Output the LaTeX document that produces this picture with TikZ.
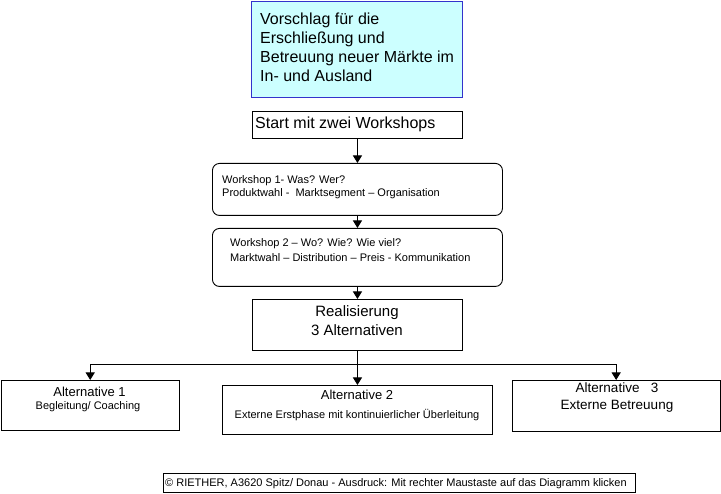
\documentclass[tikz,border=0pt]{standalone}
\usepackage{fontspec}
\setmainfont{Liberation Sans}
\usetikzlibrary{arrows.meta}
\definecolor{tfill}{RGB}{204,255,255}
\definecolor{tborder}{RGB}{51,51,204}
\newcommand\fsz[1]{\fontsize{#1}{#1}\selectfont}
\begin{document}
\begin{tikzpicture}[x=1pt,y=-1pt,
  box/.style={draw, line width=0.9pt, inner sep=0pt, anchor=north west},
  lt/.style={inner sep=0pt, anchor=base west},
  ct/.style={inner sep=0pt, anchor=base},
  arr/.style={-{Triangle[width=9pt,length=7.5pt]}, line width=1pt}]
\useasboundingbox (0,0) rectangle (721,494);

% title
\node[box, draw=tborder, fill=tfill, line width=1.2pt, minimum width=211pt, minimum height=96pt] (title) at (251,0.6) {};
\node[lt, font=\fsz{16}] (t1) at (260,25) {Vorschlag für die};
\node[lt, font=\fsz{16}] (t2) at (260,44) {Erschließung und};
\node[lt, font=\fsz{16}] (t3) at (260,63) {Betreuung neuer Märkte im};
\node[lt, font=\fsz{16}] (t4) at (260,82) {In- und Ausland};

% start
\node[box, minimum width=210pt, minimum height=27pt] (start) at (252,111.5) {};
\node[lt, font=\fsz{16}] (st) at (255,128.5) {Start mit zwei Workshops};

% workshop 1
\node[box, rounded corners=7pt, minimum width=290pt, minimum height=52pt] (w1) at (212,163) {};
\node[lt, font=\fsz{11}] (w1a) at (222,184) {Workshop 1- Was? Wer?};
\node[lt, font=\fsz{11}] (w1b) at (222,196.5) {Produktwahl - \ Marktsegment – Organisation};

% workshop 2
\node[box, rounded corners=7pt, minimum width=290pt, minimum height=58pt] (w2) at (212,228) {};
\node[lt, font=\fsz{11}] (w2a) at (230,247) {Workshop 2 – Wo? Wie? Wie viel?};
\node[lt, font=\fsz{11}] (w2b) at (230,262) {Marktwahl – Distribution – Preis - Kommunikation};

% realisierung
\node[box, minimum width=210pt, minimum height=51pt] (real) at (252,299) {};
\node[ct, font=\fsz{15}] (r1) at (357,316.5) {Realisierung};
\node[ct, font=\fsz{15}] (r2) at (357,335.5) {3 Alternativen};

% alternatives
\node[box, minimum width=178.5pt, minimum height=50pt] (alt1) at (0.5,380) {};
\node[ct, font=\fsz{13}] (a1a) at (89.5,397) {Alternative 1};
\node[ct, font=\fsz{11}] (a1b) at (88,410) {Begleitung/ Coaching};

\node[box, minimum width=270pt, minimum height=49pt] (alt2) at (222,385) {};
\node[ct, font=\fsz{13}] (a2a) at (357,400) {Alternative 2};
\node[ct, font=\fsz{11}] (a2b) at (357,419) {Externe Erstphase mit kontinuierlicher Überleitung};

\node[box, minimum width=208pt, minimum height=51pt] (alt3) at (511.7,380) {};
\node[ct, font=\fsz{13.5}] (a3a) at (617,392.3) {Alternative \ \ 3};
\node[ct, font=\fsz{13.5}] (a3b) at (617,410) {Externe Betreuung};

% footer
\node[box, minimum width=472pt, minimum height=19pt] (foot) at (162.5,473) {};
\node[lt, font=\fsz{11}] (ft) at (165,486.5) {© RIETHER, A3620 Spitz/ Donau - Ausdruck: Mit rechter Maustaste auf das Diagramm klicken};

% connectors
\draw[arr] (start.south) -- (w1.north);
\draw[arr] (w1.south) -- (w2.north);
\draw[arr] (w2.south) -- (real.north);
\draw[arr] (real.south) -- (alt2.north);
\coordinate (j) at (357,365);
\draw[arr] (j) -| (alt1.north);
\draw[arr] (j) -| (alt3.north);
\end{tikzpicture}
\end{document}
